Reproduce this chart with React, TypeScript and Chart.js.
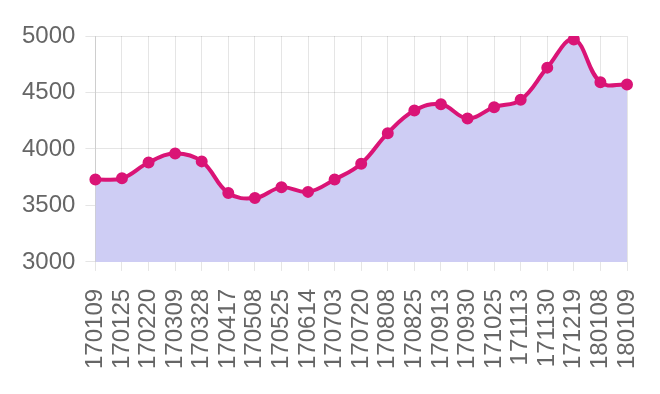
import React, { useEffect, useRef } from "react";
import { Chart, registerables } from "chart.js";

Chart.register(...registerables);

const labels = [
  "170109", "170125", "170220", "170309", "170328", "170417", "170508",
  "170525", "170614", "170703", "170720", "170808", "170825", "170913",
  "170930", "171025", "171113", "171130", "171219", "180108", "180109",
];
const prices = [
  3730, 3740, 3880, 3960, 3890, 3610, 3565,
  3660, 3620, 3730, 3870, 4140, 4340, 4395,
  4270, 4370, 4435, 4720, 4970, 4590, 4570,
];
const yMin = 3000;
const yMax = 5000;
const yStep = 500;

export default function App() {
  const ref = useRef<HTMLCanvasElement | null>(null);
  useEffect(() => {
    if (!ref.current) return;
    const font = { family: "'Liberation Sans', Arial, sans-serif", size: 24 };
    const chart = new Chart(ref.current, {
      type: "line",
      data: {
        labels,
        datasets: [
          {
            data: prices,
            borderColor: "rgb(218,20,118)",
            backgroundColor: "rgb(206,205,244)",
            pointBackgroundColor: "rgb(218,20,118)",
            pointBorderColor: "rgb(218,20,118)",
            pointRadius: 4,
            borderWidth: 4,
            fill: "start",
            tension: 0.4,
          },
        ],
      },
      options: {
        responsive: false,
        animation: false,
        layout: { padding: { left: 12, right: 33, top: 36, bottom: 7 } },
        plugins: { legend: { display: false }, tooltip: { enabled: false } },
        scales: {
          x: {
            grid: { color: "rgba(0,0,0,0.1)", tickLength: 9 },
            border: { color: "rgba(0,0,0,0.1)" },
            afterFit: (scale: any) => {
              scale.paddingRight = 0;
            },
            ticks: {
              font,
              color: "#666",
              minRotation: 90,
              maxRotation: 90,
              autoSkip: false,
              padding: 18,
            },
          },
          y: {
            min: yMin,
            max: yMax,
            grid: { color: "rgba(0,0,0,0.1)", tickLength: 10 },
            border: { color: "rgba(0,0,0,0.1)" },
            ticks: {
              font,
              color: "#666",
              stepSize: yStep,
              padding: 10,
              callback: (v: any) => String(v),
            },
          },
        },
      },
    });
    return () => chart.destroy();
  }, []);
  return (
    <div style={{ position: "absolute", left: 0, top: 0, width: 660, height: 394 }}>
      <canvas ref={ref} width={660} height={394} />
    </div>
  );
}
